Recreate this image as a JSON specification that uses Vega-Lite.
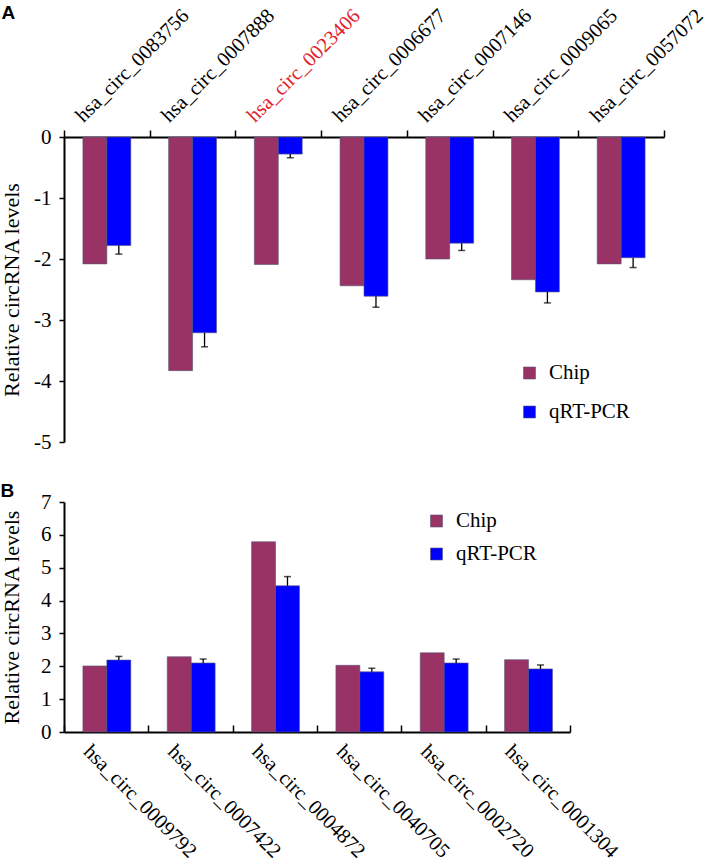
{
  "$schema": "https://vega.github.io/schema/vega-lite/v6.json",
  "background": "white",
  "padding": {"top": 4, "left": 0, "right": 5, "bottom": 3},
  "spacing": 30,
  "config": {
    "font": "Liberation Serif",
    "view": {"stroke": null},
    "axis": {
      "labelFont": "Liberation Serif", "titleFont": "Liberation Serif",
      "labelColor": "black", "titleColor": "black", "domainColor": "black", "tickColor": "black",
      "grid": false, "domainWidth": 2, "tickWidth": 1.5, "labelFontSize": 21, "titleFontSize": 22,
      "titleFontWeight": "normal", "labelLimit": 500, "labelOverlap": false, "labelBound": false
    },
    "legend": {"labelFont": "Liberation Serif", "labelFontSize": 21, "labelColor": "black", "padding": 0}
  },
  "resolve": {"scale": {"color": "independent"}, "legend": {"color": "independent"}},
  "datasets": {
    "panelA": [
      {"gene": "hsa_circ_0083756", "method": "Chip", "value": -2.08, "errEnd": null},
      {"gene": "hsa_circ_0083756", "method": "qRT-PCR", "value": -1.78, "errEnd": -1.92},
      {"gene": "hsa_circ_0007888", "method": "Chip", "value": -3.83, "errEnd": null},
      {"gene": "hsa_circ_0007888", "method": "qRT-PCR", "value": -3.21, "errEnd": -3.44},
      {"gene": "hsa_circ_0023406", "method": "Chip", "value": -2.09, "errEnd": null},
      {"gene": "hsa_circ_0023406", "method": "qRT-PCR", "value": -0.28, "errEnd": -0.34},
      {"gene": "hsa_circ_0006677", "method": "Chip", "value": -2.44, "errEnd": null},
      {"gene": "hsa_circ_0006677", "method": "qRT-PCR", "value": -2.61, "errEnd": -2.79},
      {"gene": "hsa_circ_0007146", "method": "Chip", "value": -2.0, "errEnd": null},
      {"gene": "hsa_circ_0007146", "method": "qRT-PCR", "value": -1.74, "errEnd": -1.86},
      {"gene": "hsa_circ_0009065", "method": "Chip", "value": -2.34, "errEnd": null},
      {"gene": "hsa_circ_0009065", "method": "qRT-PCR", "value": -2.54, "errEnd": -2.72},
      {"gene": "hsa_circ_0057072", "method": "Chip", "value": -2.08, "errEnd": null},
      {"gene": "hsa_circ_0057072", "method": "qRT-PCR", "value": -1.98, "errEnd": -2.14}
    ],
    "panelB": [
      {"gene": "hsa_circ_0009792", "method": "Chip", "value": 2.01, "errEnd": null},
      {"gene": "hsa_circ_0009792", "method": "qRT-PCR", "value": 2.19, "errEnd": 2.3},
      {"gene": "hsa_circ_0007422", "method": "Chip", "value": 2.29, "errEnd": null},
      {"gene": "hsa_circ_0007422", "method": "qRT-PCR", "value": 2.1, "errEnd": 2.22},
      {"gene": "hsa_circ_0004872", "method": "Chip", "value": 5.79, "errEnd": null},
      {"gene": "hsa_circ_0004872", "method": "qRT-PCR", "value": 4.45, "errEnd": 4.73},
      {"gene": "hsa_circ_0040705", "method": "Chip", "value": 2.03, "errEnd": null},
      {"gene": "hsa_circ_0040705", "method": "qRT-PCR", "value": 1.83, "errEnd": 1.94},
      {"gene": "hsa_circ_0002720", "method": "Chip", "value": 2.41, "errEnd": null},
      {"gene": "hsa_circ_0002720", "method": "qRT-PCR", "value": 2.1, "errEnd": 2.22},
      {"gene": "hsa_circ_0001304", "method": "Chip", "value": 2.2, "errEnd": null},
      {"gene": "hsa_circ_0001304", "method": "qRT-PCR", "value": 1.92, "errEnd": 2.04}
    ]
  },
  "vconcat": [
    {
      "title": {"text": "A", "anchor": "start", "frame": "bounds", "font": "Liberation Sans", "fontWeight": "bold", "fontSize": 19, "color": "black", "offset": 4, "dx": 1, "dy": 22},
      "width": 600,
      "height": 305,
      "data": {"name": "panelA"},
      "encoding": {
        "x": {
          "field": "gene", "type": "nominal", "sort": null,
          "scale": {"paddingInner": 0, "paddingOuter": 0},
          "axis": {
            "orient": "top", "title": null, "labelAngle": -45, "labelAlign": "left", "labelBaseline": "middle",
            "labelOffset": -28, "labelPadding": 11.5, "tickBand": "extent", "tickSize": 7,
            "labelFont": "Liberation Serif", "labelFontSize": 20.5,
            "labelColor": {"condition": {"test": "datum.value === 'hsa_circ_0023406'", "value": "#e3202a"}, "value": "black"}
          }
        },
        "xOffset": {"field": "method", "type": "nominal", "sort": ["Chip", "qRT-PCR"], "scale": {"paddingInner": 0, "paddingOuter": 0.79}}
      },
      "layer": [
        {
          "mark": {"type": "bar", "stroke": "#555577", "strokeWidth": 0.6},
          "encoding": {
            "y": {
              "field": "value", "type": "quantitative", "title": "Relative circRNA levels",
              "scale": {"domain": [-5, 0], "nice": false},
              "axis": {"values": [-5, -4, -3, -2, -1, 0], "tickSize": 5, "labelPadding": 8, "titlePadding": 10, "labelExpr": "'' + datum.value", "labelFont": "Liberation Serif", "titleFont": "Liberation Serif", "labelFontSize": 21, "titleFontSize": 22}
            },
            "color": {
              "field": "method", "type": "nominal",
              "scale": {"domain": ["Chip", "qRT-PCR"], "range": ["#993366", "#0000ff"]},
              "legend": {"title": null, "orient": "none", "legendX": 455, "legendY": 225.5, "symbolType": "square", "symbolSize": 144, "rowPadding": 17, "labelOffset": 9, "symbolStrokeColor": "#555577", "symbolStrokeWidth": 0.6}
            }
          }
        },
        {
          "transform": [{"filter": "datum.errEnd != null"}],
          "mark": {"type": "rule", "color": "black", "strokeWidth": 1.3},
          "encoding": {
            "y": {
              "field": "value", "type": "quantitative", "title": "Relative circRNA levels",
              "axis": {"values": [-5, -4, -3, -2, -1, 0], "tickSize": 5, "labelPadding": 8, "titlePadding": 10, "labelExpr": "'' + datum.value", "labelFont": "Liberation Serif", "titleFont": "Liberation Serif", "labelFontSize": 21, "titleFontSize": 22}
            },
            "y2": {"field": "errEnd"}
          }
        },
        {
          "transform": [{"filter": "datum.errEnd != null"}],
          "mark": {"type": "tick", "color": "black", "thickness": 1.5, "size": 7},
          "encoding": {
            "y": {
              "field": "errEnd", "type": "quantitative", "title": "Relative circRNA levels",
              "axis": {"values": [-5, -4, -3, -2, -1, 0], "tickSize": 5, "labelPadding": 8, "titlePadding": 10, "labelExpr": "'' + datum.value", "labelFont": "Liberation Serif", "titleFont": "Liberation Serif", "labelFontSize": 21, "titleFontSize": 22}
            }
          }
        }
      ]
    },
    {
      "title": {"text": "B", "anchor": "start", "frame": "bounds", "font": "Liberation Sans", "fontWeight": "bold", "fontSize": 19, "color": "black", "offset": 4, "dx": 0, "dy": 14},
      "width": 506,
      "height": 230,
      "data": {"name": "panelB"},
      "encoding": {
        "x": {
          "field": "gene", "type": "nominal", "sort": null,
          "scale": {"paddingInner": 0, "paddingOuter": 0},
          "axis": {
            "orient": "bottom", "title": null, "labelAngle": 45, "labelAlign": "left", "labelBaseline": "middle",
            "labelOffset": -20, "labelPadding": 23, "tickBand": "extent", "tickSize": -7,
            "labelFont": "Liberation Serif", "labelFontSize": 20.5
          }
        },
        "xOffset": {"field": "method", "type": "nominal", "sort": ["Chip", "qRT-PCR"], "scale": {"paddingInner": 0, "paddingOuter": 0.75}}
      },
      "layer": [
        {
          "mark": {"type": "bar", "stroke": "#555577", "strokeWidth": 0.6},
          "encoding": {
            "y": {
              "field": "value", "type": "quantitative", "title": "Relative circRNA levels",
              "scale": {"domain": [0, 7], "nice": false},
              "axis": {"values": [0, 1, 2, 3, 4, 5, 6, 7], "tickSize": 5, "labelPadding": 8, "titlePadding": 17, "labelExpr": "'' + datum.value", "labelFont": "Liberation Serif", "titleFont": "Liberation Serif", "labelFontSize": 21, "titleFontSize": 22}
            },
            "color": {
              "field": "method", "type": "nominal",
              "scale": {"domain": ["Chip", "qRT-PCR"], "range": ["#993366", "#0000ff"]},
              "legend": {"title": null, "orient": "none", "legendX": 362, "legendY": 8.5, "symbolType": "square", "symbolSize": 144, "rowPadding": 11, "labelOffset": 9, "symbolStrokeColor": "#555577", "symbolStrokeWidth": 0.6}
            }
          }
        },
        {
          "transform": [{"filter": "datum.errEnd != null"}],
          "mark": {"type": "rule", "color": "black", "strokeWidth": 1.3},
          "encoding": {
            "y": {
              "field": "value", "type": "quantitative", "title": "Relative circRNA levels",
              "axis": {"values": [0, 1, 2, 3, 4, 5, 6, 7], "tickSize": 5, "labelPadding": 8, "titlePadding": 17, "labelExpr": "'' + datum.value", "labelFont": "Liberation Serif", "titleFont": "Liberation Serif", "labelFontSize": 21, "titleFontSize": 22}
            },
            "y2": {"field": "errEnd"}
          }
        },
        {
          "transform": [{"filter": "datum.errEnd != null"}],
          "mark": {"type": "tick", "color": "black", "thickness": 1.5, "size": 7},
          "encoding": {
            "y": {
              "field": "errEnd", "type": "quantitative", "title": "Relative circRNA levels",
              "axis": {"values": [0, 1, 2, 3, 4, 5, 6, 7], "tickSize": 5, "labelPadding": 8, "titlePadding": 17, "labelExpr": "'' + datum.value", "labelFont": "Liberation Serif", "titleFont": "Liberation Serif", "labelFontSize": 21, "titleFontSize": 22}
            }
          }
        }
      ]
    }
  ]
}
